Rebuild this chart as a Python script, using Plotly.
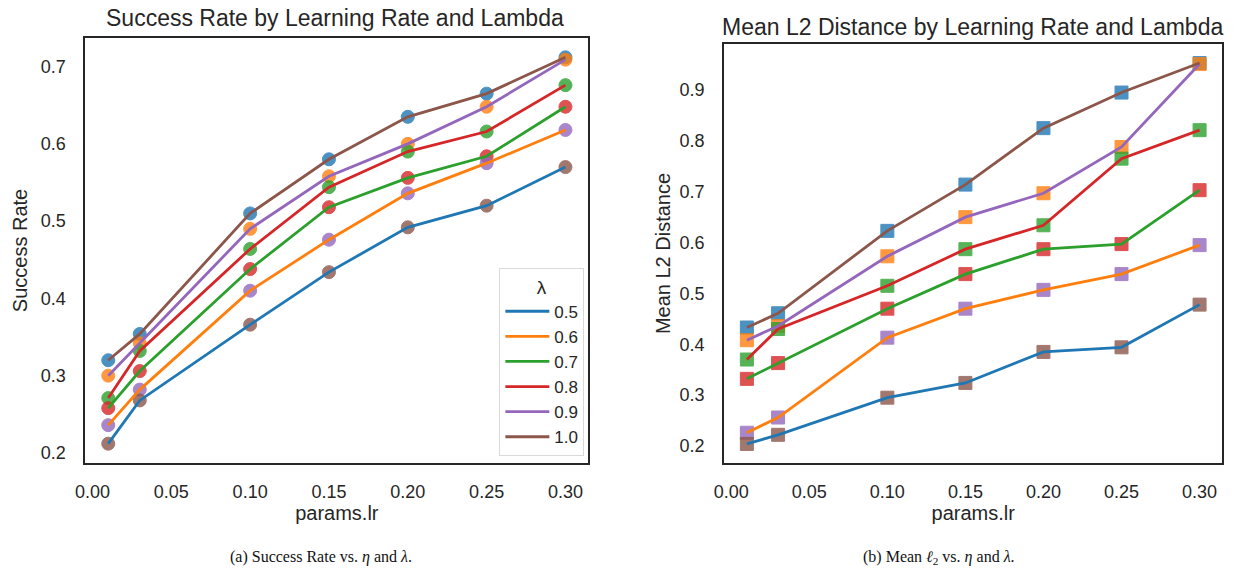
import plotly.graph_objects as go

lr = [0.01, 0.03, 0.10, 0.15, 0.20, 0.25, 0.30]
lambdas = ["0.5", "0.6", "0.7", "0.8", "0.9", "1.0"]
colors = ["#1f77b4", "#ff7f0e", "#2ca02c", "#d62728", "#9467bd", "#8c564b"]

# Success rate per lambda
sr_05 = [0.212, 0.268, 0.366, 0.434, 0.492, 0.520, 0.570]
sr_06 = [0.236, 0.282, 0.410, 0.476, 0.536, 0.575, 0.618]
sr_07 = [0.258, 0.306, 0.438, 0.518, 0.556, 0.584, 0.648]
sr_08 = [0.271, 0.332, 0.464, 0.544, 0.590, 0.616, 0.676]
sr_09 = [0.300, 0.342, 0.490, 0.558, 0.600, 0.648, 0.709]
sr_10 = [0.320, 0.354, 0.510, 0.580, 0.635, 0.665, 0.712]

# Mean L2 distance per lambda
l2_05 = [0.204, 0.222, 0.295, 0.324, 0.385, 0.394, 0.478]
l2_06 = [0.226, 0.256, 0.413, 0.470, 0.507, 0.538, 0.595]
l2_07 = [0.332, 0.363, 0.470, 0.538, 0.587, 0.597, 0.703]
l2_08 = [0.370, 0.430, 0.515, 0.587, 0.634, 0.765, 0.821]
l2_09 = [0.408, 0.436, 0.573, 0.650, 0.697, 0.788, 0.951]
l2_10 = [0.433, 0.461, 0.623, 0.714, 0.825, 0.895, 0.953]

sr = [sr_05, sr_06, sr_07, sr_08, sr_09, sr_10]
l2 = [l2_05, l2_06, l2_07, l2_08, l2_09, l2_10]

TXT = "#262626"
FONT = "Liberation Sans"
W, H = 1247, 572

fig = go.Figure()


def add_panel(series, xa, ya, symbol, msize, legend):
    # markers: at each lr, values sorted descending, coloured by rank
    n = len(series)
    ranked = []
    for i in range(len(lr)):
        col = sorted([s[i] for s in series], reverse=True)
        ranked.append(col)
    for k in range(n):
        fig.add_trace(go.Scatter(
            x=lr, y=[ranked[i][k] for i in range(len(lr))], mode="markers",
            marker=dict(symbol=symbol, size=msize, color=colors[k], opacity=0.8,
                        line=dict(width=1, color=colors[k])),
            showlegend=False, hoverinfo="skip", xaxis=xa, yaxis=ya))
    for k in range(n):
        fig.add_trace(go.Scatter(
            x=lr, y=series[k], mode="lines", name=lambdas[k],
            line=dict(color=colors[k], width=2.8),
            showlegend=legend, xaxis=xa, yaxis=ya))


add_panel(sr, "x", "y", "circle", 13, True)
add_panel(l2, "x2", "y2", "square", 13, False)


def rng(vals, pad=0.05):
    lo, hi = min(vals), max(vals)
    d = (hi - lo) * pad
    return [lo - d, hi + d]


xr = rng(lr)
yr1 = rng([v for s in sr for v in s])
yr2 = rng([v for s in l2 for v in s])

axis_common = dict(showline=True, mirror=True, linecolor=TXT, linewidth=2,
                   showgrid=False, zeroline=False, ticks="outside", tickcolor="rgba(0,0,0,0)",
                   tickfont=dict(size=18, color=TXT, family=FONT))
xticks = [0, 0.05, 0.1, 0.15, 0.2, 0.25, 0.3]
ttl = dict(size=20, color=TXT, family=FONT)

fig.update_layout(
    width=W, height=H, margin=dict(l=0, r=0, t=0, b=0),
    paper_bgcolor="white", plot_bgcolor="white",
    font=dict(family=FONT, color=TXT),
    xaxis=dict(domain=[76 / W, 583 / W], range=xr, tickvals=xticks, ticklen=11,
               tickformat=".2f", title=dict(text="params.lr", font=ttl, standoff=0),
               anchor="y", **axis_common),
    yaxis=dict(domain=[1 - 463 / H, 1 - 38 / H], range=yr1, tickvals=[0.2, 0.3, 0.4, 0.5, 0.6, 0.7],
               ticklen=14, tickformat=".1f", title=dict(text="Success Rate", font=ttl, standoff=8),
               anchor="x", **axis_common),
    xaxis2=dict(domain=[720 / W, 1222 / W], range=xr, tickvals=xticks, ticklen=11,
                tickformat=".2f", title=dict(text="params.lr", font=ttl, standoff=0),
                anchor="y2", **axis_common),
    yaxis2=dict(domain=[1 - 463 / H, 1 - 44 / H], range=yr2,
                tickvals=[0.2, 0.3, 0.4, 0.5, 0.6, 0.7, 0.8, 0.9], ticklen=14,
                tickformat=".1f", title=dict(text="Mean L2 Distance", font=ttl, standoff=4),
                anchor="x2", **axis_common),
    legend=dict(x=579 / W, y=1 - 456 / H, xanchor="right", yanchor="bottom",
                bgcolor="white", bordercolor="#d9d9d9", borderwidth=1,
                font=dict(size=17, color=TXT, family=FONT),
                title=dict(text="λ", side="top center", font=dict(size=19, color=TXT)),
                itemwidth=44, tracegroupgap=0),
    showlegend=True,
)

annotations = [
    dict(text="Success Rate by Learning Rate and Lambda", x=328 / W, y=1 - 18 / H,
         xref="paper", yref="paper", showarrow=False, font=dict(size=23, color=TXT, family=FONT),
         xanchor="center", yanchor="middle"),
    dict(text="Mean L2 Distance by Learning Rate and Lambda", x=970 / W, y=1 - 27 / H,
         xref="paper", yref="paper", showarrow=False, font=dict(size=23, color=TXT, family=FONT),
         xanchor="center", yanchor="middle"),
    dict(text="(a) Success Rate vs. <i>η</i> and <i>λ</i>.", x=314 / W, y=1 - 557 / H,
         xref="paper", yref="paper", showarrow=False,
         font=dict(size=16, color="#111111", family="Liberation Serif"),
         xanchor="center", yanchor="middle"),
    dict(text="(b) Mean <i>ℓ</i><sub>2</sub> vs. <i>η</i> and <i>λ</i>.", x=937 / W, y=1 - 557 / H,
         xref="paper", yref="paper", showarrow=False,
         font=dict(size=16, color="#111111", family="Liberation Serif"),
         xanchor="center", yanchor="middle"),
]
fig.update_layout(annotations=annotations)

fig.write_html("out.html")
